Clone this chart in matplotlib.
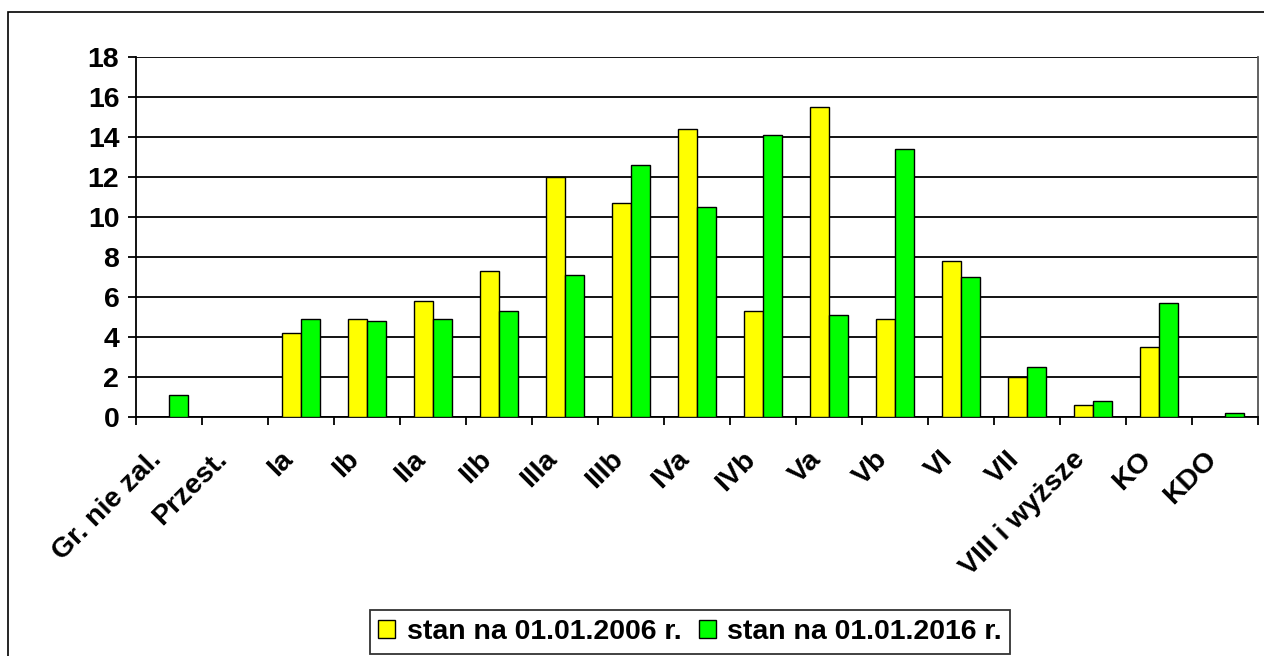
import numpy as np
import matplotlib.pyplot as plt
from matplotlib.patches import Rectangle
from matplotlib.transforms import ScaledTranslation

categories = ["Gr. nie zal.", "Przest.", "Ia", "Ib", "IIa", "IIb", "IIIa", "IIIb",
              "IVa", "IVb", "Va", "Vb", "VI", "VII", "VIII i wyższe", "KO", "KDO"]
stan_2006 = [0, 0, 4.2, 4.9, 5.8, 7.3, 12.0, 10.7, 14.4, 5.3, 15.5, 4.9, 7.8, 2.0, 0.6, 3.5, 0]
stan_2016 = [1.1, 0, 4.9, 4.8, 4.9, 5.3, 7.1, 12.6, 10.5, 14.1, 5.1, 13.4, 7.0, 2.5, 0.8, 5.7, 0.2]
labels = ["stan na 01.01.2006 r.", "stan na 01.01.2016 r."]

plt.rcParams['font.family'] = ['Liberation Sans', 'DejaVu Sans']
plt.rcParams['font.weight'] = 'bold'
fs = 20.5

fig = plt.figure(figsize=(12.64, 6.56), dpi=100)
ax = fig.add_axes([136/1264, 1 - 417/656, (1258 - 136)/1264, (417 - 57)/656])

# outer frame of the chart object
fig.patches.append(Rectangle((8/1264, -0.1), 1.2, 1 - 12/656 + 0.1, transform=fig.transFigure,
                             fill=False, edgecolor='black', linewidth=1.2))

x = np.arange(len(categories))
w = 0.285
ax.bar(x - w/2, stan_2006, w, color='#ffff00', edgecolor='black', linewidth=1.0, label=labels[0], zorder=3)
ax.bar(x + w/2, stan_2016, w, color='#00ff00', edgecolor='black', linewidth=1.0, label=labels[1], zorder=3)

ax.set_xlim(-0.5, len(categories) - 0.5)
ax.set_ylim(0, 18)
ax.set_yticks(np.arange(0, 19, 2))
ax.yaxis.grid(True, color='black', linewidth=1.3, zorder=0)
ax.set_axisbelow(True)
for s in ax.spines.values():
    s.set_linewidth(1.3)
ax.spines['right'].set_color('#555555')
ax.spines['top'].set_visible(False)

ax.set_xticks(np.arange(len(categories) + 1) - 0.5, minor=True)
ax.set_xticks(x)
ax.set_xticklabels(categories, rotation=45, ha='right', va='top', rotation_mode='anchor')
ax.tick_params(axis='x', which='major', length=0, pad=21, labelsize=fs)
ax.tick_params(axis='x', which='minor', length=6, width=1.3, direction='out')
ax.tick_params(axis='y', length=6, width=1.3, direction='out', pad=6, labelsize=fs)
for lab in ax.get_xticklabels():
    lab.set_transform(lab.get_transform() + ScaledTranslation(-0.21, 0, fig.dpi_scale_trans))

leg = fig.legend(loc='center', bbox_to_anchor=(690/1264, 1 - 632/656), ncol=2, fontsize=fs,
                 frameon=True, fancybox=False, edgecolor='black', handlelength=0.6, handleheight=0.6,
                 handletextpad=0.4, columnspacing=0.6, borderpad=0.3)
leg.get_frame().set_linewidth(1.3)

fig.savefig("out.png", dpi=100)
